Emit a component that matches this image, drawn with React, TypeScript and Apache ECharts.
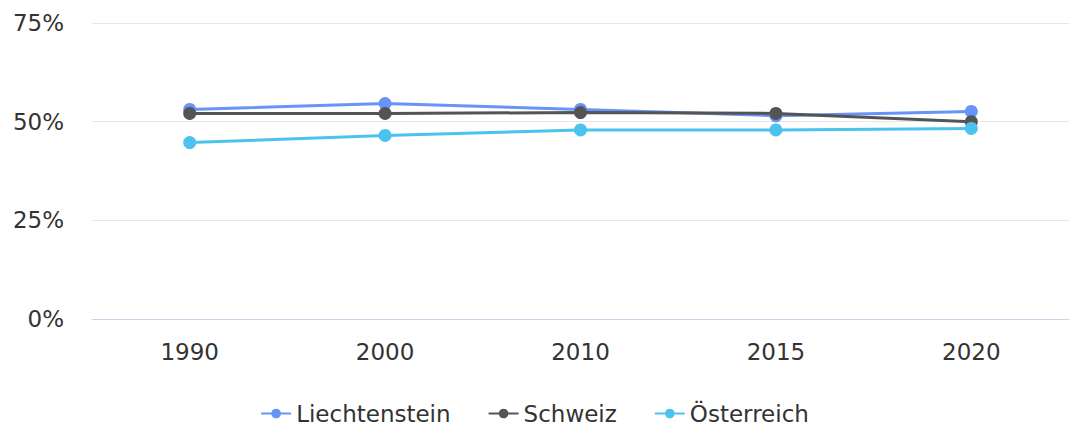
import React, { useEffect, useRef } from "react";
import * as echarts from "echarts";

const years = ["1990", "2000", "2010", "2015", "2020"];
const liechtenstein = [53.1, 54.6, 53.1, 51.5, 52.6];
const schweiz = [52.1, 52.1, 52.3, 52.1, 50.0];
const oesterreich = [44.7, 46.5, 47.9, 47.9, 48.3];
const yTicks = [0, 25, 50, 75];

export default function App() {
  const ref = useRef<HTMLDivElement>(null);
  useEffect(() => {
    document.body.style.margin = "0";
    const chart = echarts.init(ref.current!, null, { renderer: "svg" });
    const font = "'DejaVu Sans', sans-serif";
    const mk = (name: string, data: number[], color: string) => ({
      name,
      type: "line",
      data,
      symbol: "circle",
      symbolSize: 13,
      lineStyle: { width: 3, color },
      itemStyle: { color },
      color,
    });
    chart.setOption({
      animation: false,
      textStyle: { fontFamily: font },
      grid: { left: 92, right: 0, top: 23, bottom: 113 },
      legend: {
        bottom: 2,
        left: "center",
        itemWidth: 30,
        itemHeight: 12,
        itemGap: 37,
        textStyle: { fontSize: 23, color: "#333", fontFamily: font },
        data: ["Liechtenstein", "Schweiz", "Österreich"],
      },
      xAxis: {
        type: "category",
        data: years,
        boundaryGap: true,
        axisLine: { lineStyle: { color: "#ccd6eb", width: 1 } },
        axisTick: { show: false },
        axisLabel: { fontSize: 23, color: "#333", margin: 21, fontFamily: font },
      },
      yAxis: {
        type: "value",
        min: yTicks[0],
        max: yTicks[yTicks.length - 1],
        interval: 25,
        axisLine: { show: false },
        axisTick: { show: false },
        splitLine: { lineStyle: { color: "#e6e6e6", width: 1 } },
        axisLabel: {
          fontSize: 23,
          color: "#333",
          margin: 28,
          fontFamily: font,
          formatter: (v: number) => v + "%",
        },
      },
      series: [
        mk("Liechtenstein", liechtenstein, "#6794f8"),
        mk("Schweiz", schweiz, "#545454"),
        mk("Österreich", oesterreich, "#4cc3ee"),
      ],
    });
    return () => chart.dispose();
  }, []);
  return <div ref={ref} style={{ width: 1069, height: 432 }} />;
}
